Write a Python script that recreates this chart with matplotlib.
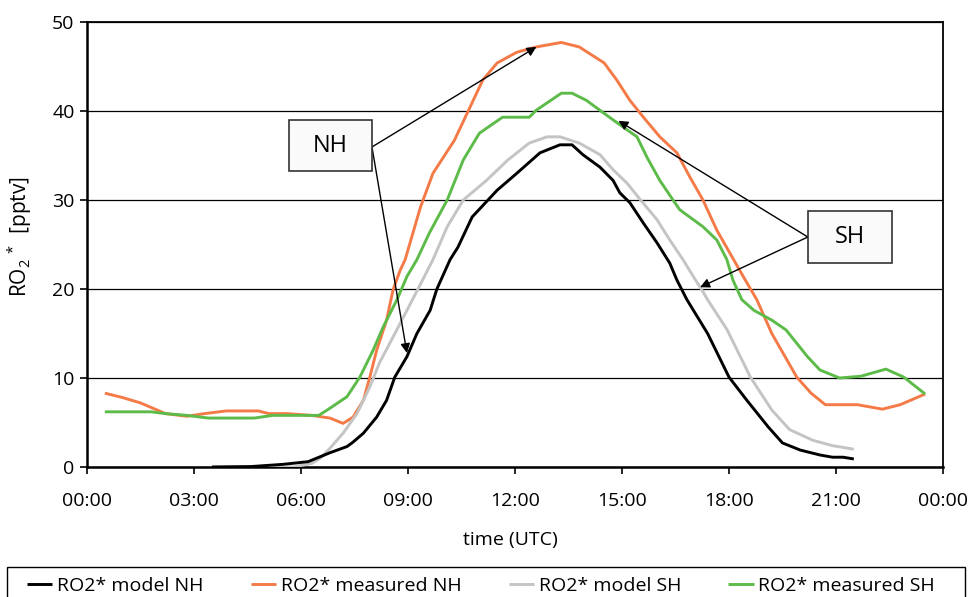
import matplotlib
matplotlib.use("Agg")
import matplotlib.pyplot as plt
from matplotlib.patches import Rectangle

plt.rcParams['font.family'] = ['Open Sans', 'DejaVu Sans']
plt.rcParams['mathtext.fontset'] = 'custom'
plt.rcParams['mathtext.rm'] = 'Open Sans'
plt.rcParams['mathtext.default'] = 'regular'

# ---------------- data (hours UTC, pptv) ----------------
t_model_nh = [3.5, 4.6, 5.5, 6.2, 6.81, 7.29, 7.46, 7.75, 8.12, 8.4, 8.63, 8.97, 9.25, 9.62,
              9.81, 10.18, 10.4, 10.8, 11.5, 12.05, 12.7, 13.26, 13.6, 13.9, 14.38, 14.75,
              14.94, 15.22, 15.6, 15.98, 16.34, 16.54, 16.82, 17.4, 18.0, 18.5, 19.1, 19.5,
              20.0, 20.55, 20.9, 21.2, 21.5]
v_model_nh = [0.0, 0.05, 0.3, 0.6, 1.6, 2.3, 2.8, 3.8, 5.6, 7.5, 10.1, 12.4, 15.0, 17.6,
              20.0, 23.3, 24.7, 28.1, 31.1, 33.0, 35.3, 36.2, 36.2, 35.1, 33.7, 32.2,
              30.8, 29.7, 27.4, 25.2, 22.9, 21.0, 18.8, 15.0, 10.1, 7.5, 4.5, 2.7,
              1.9, 1.35, 1.1, 1.1, 0.9]

t_meas_nh = [0.5, 1.0, 1.5, 2.2, 2.8, 3.3, 3.9, 4.8, 5.1, 5.6, 6.3, 6.81, 7.18, 7.46, 7.75,
             7.93, 8.12, 8.4, 8.58, 8.78, 8.92, 9.35, 9.7, 10.3, 10.7, 11.1, 11.5, 12.05,
             12.6, 13.3, 13.8, 14.5, 14.85, 15.22, 15.6, 16.06, 16.54, 16.9, 17.27, 17.66,
             18.03, 18.4, 18.78, 19.2, 19.9, 20.3, 20.7, 21.6, 22.3, 22.8, 23.5]
v_meas_nh = [8.3, 7.8, 7.2, 6.0, 5.7, 6.0, 6.3, 6.3, 6.0, 6.0, 5.8, 5.5, 4.9, 5.6, 7.5,
             10.1, 13.1, 16.5, 19.9, 22.1, 23.3, 29.2, 33.0, 36.7, 40.1, 43.5, 45.4, 46.6,
             47.2, 47.7, 47.2, 45.4, 43.5, 41.2, 39.3, 37.1, 35.3, 32.6, 30.0, 26.6,
             24.0, 21.4, 18.8, 15.0, 10.1, 8.3, 7.0, 7.0, 6.5, 7.0, 8.2]

t_model_sh = [3.5, 5.8, 6.3, 6.55, 6.81, 7.18, 7.57, 7.93, 8.2, 8.58, 8.97, 9.28, 9.7, 10.1,
              10.55, 11.2, 11.8, 12.4, 12.9, 13.26, 13.8, 14.38, 14.75, 15.14, 15.5, 15.98,
              16.34, 16.71, 17.0, 17.27, 17.4, 17.95, 18.6, 19.2, 19.7, 20.35, 20.9, 21.5]
v_model_sh = [0.0, 0.0, 0.4, 1.0, 2.1, 3.8, 6.0, 9.0, 11.7, 14.6, 17.6, 20.0, 23.3, 27.0,
              30.0, 32.2, 34.5, 36.4, 37.1, 37.1, 36.4, 35.1, 33.4, 31.9, 30.1, 27.8,
              25.5, 23.3, 21.4, 19.7, 18.8, 15.4, 10.1, 6.4, 4.2, 3.0, 2.4, 2.0]

t_meas_sh = [0.5, 1.8, 2.2, 2.8, 3.4, 4.7, 5.2, 6.5, 6.81, 7.29, 7.65, 8.02, 8.3, 8.69, 8.97,
             9.25, 9.6, 10.1, 10.55, 11.0, 11.65, 12.4, 12.6, 13.3, 13.6, 14.0, 14.75, 15.42,
             15.7, 16.06, 16.43, 16.62, 17.27, 17.66, 17.94, 18.11, 18.36, 18.7, 19.2, 19.6,
             20.2, 20.55, 21.1, 21.7, 22.4, 22.9, 23.5]
v_meas_sh = [6.2, 6.2, 6.0, 5.8, 5.5, 5.5, 5.8, 5.8, 6.6, 7.9, 10.1, 13.1, 15.7, 18.8, 21.4,
             23.3, 26.3, 30.0, 34.5, 37.5, 39.3, 39.3, 40.1, 42.0, 42.0, 41.2, 39.0, 37.1,
             34.8, 32.2, 30.0, 28.9, 27.0, 25.5, 23.3, 21.0, 18.8, 17.6, 16.5, 15.4,
             12.4, 10.9, 10.0, 10.2, 11.0, 10.1, 8.2]

x_ticks = [0, 3, 6, 9, 12, 15, 18, 21, 24]
x_tick_labels = ["00:00", "03:00", "06:00", "09:00", "12:00", "15:00", "18:00", "21:00", "00:00"]
y_ticks = [0, 10, 20, 30, 40, 50]

series_labels = ["RO2* model NH", "RO2* measured NH", "RO2* model SH", "RO2* measured SH"]
colors = ["#000000", "#F47B48", "#C4C4C4", "#5DBB4A"]

# ---------------- figure ----------------
W, H = 971, 597
fig = plt.figure(figsize=(W / 100, H / 100), dpi=100)
ax = fig.add_axes([87 / W, 1 - 467 / H, (943 - 87) / W, (467 - 22) / H])

series = [(t_model_nh, v_model_nh), (t_meas_nh, v_meas_nh),
          (t_model_sh, v_model_sh), (t_meas_sh, v_meas_sh)]
order = [1, 3, 2, 0]
handles = [None] * 4
for i in order:
    t, v = series[i]
    h, = ax.plot(t, v, color=colors[i], lw=2.1, label=series_labels[i], zorder=3,
                 solid_joinstyle='round', solid_capstyle='butt')
    handles[i] = h

ax.set_xlim(0, 24)
ax.set_ylim(0, 50)
ax.set_xticks(x_ticks)
ax.set_xticklabels(x_tick_labels)
ax.set_yticks(y_ticks)
ax.yaxis.grid(True, color='black', lw=0.9, zorder=1)
ax.set_axisbelow(True)

ax.tick_params(axis='y', direction='out', length=5, width=1.2, pad=4, labelsize=14)
ax.tick_params(axis='x', direction='out', length=5, width=1.2, pad=13, labelsize=14)
for s in ['left', 'bottom']:
    ax.spines[s].set_linewidth(1.8)
for s in ['top', 'right']:
    ax.spines[s].set_linewidth(1.3)

fig.text(20 / W, 1 - 237 / H, r"RO$_{2}$ $^{*}$  [pptv]", rotation=90,
         ha='center', va='center', fontsize=15)
fig.text(510 / W, 1 - 540 / H, "time (UTC)", ha='center', va='center', fontsize=14)

# ---------------- annotation boxes ----------------
box_kw = dict(facecolor='#fafafa', edgecolor='#333333', lw=1.2, zorder=5)
ax.add_patch(Rectangle((5.66, 33.26), 2.33, 5.73, **box_kw))
ax.text(6.825, 36.1, "NH", ha='center', va='center', fontsize=17, zorder=6)
ax.add_patch(Rectangle((20.21, 22.92), 2.36, 5.84, **box_kw))
ax.text(21.39, 25.8, "SH", ha='center', va='center', fontsize=17, zorder=6)

arrow_kw = dict(arrowstyle='-|>', color='black', lw=1.0, mutation_scale=14,
                shrinkA=0, shrinkB=0)
ax.annotate("", xy=(12.6, 47.2), xytext=(7.99, 35.96), arrowprops=arrow_kw, zorder=4)
ax.annotate("", xy=(8.97, 12.8), xytext=(7.99, 35.96), arrowprops=arrow_kw, zorder=4)
ax.annotate("", xy=(14.9, 38.9), xytext=(20.21, 25.84), arrowprops=arrow_kw, zorder=4)
ax.annotate("", xy=(17.19, 20.2), xytext=(20.21, 25.84), arrowprops=arrow_kw, zorder=4)

# ---------------- legend ----------------
fig.patches.append(Rectangle((7 / W, -0.05), 958 / W, 0.05 + (1 - 567 / H), fill=False,
                             edgecolor='black', lw=1.0, transform=fig.transFigure,
                             figure=fig))
fig.legend(handles, series_labels, loc='center left',
           bbox_to_anchor=(27 / W, 1 - 586 / H, (935 - 27) / W, 0),
           mode='expand', ncol=4, frameon=False, fontsize=14, borderaxespad=0,
           borderpad=0, handlelength=1.3, handletextpad=0.25)

fig.savefig("out.png", dpi=100)
